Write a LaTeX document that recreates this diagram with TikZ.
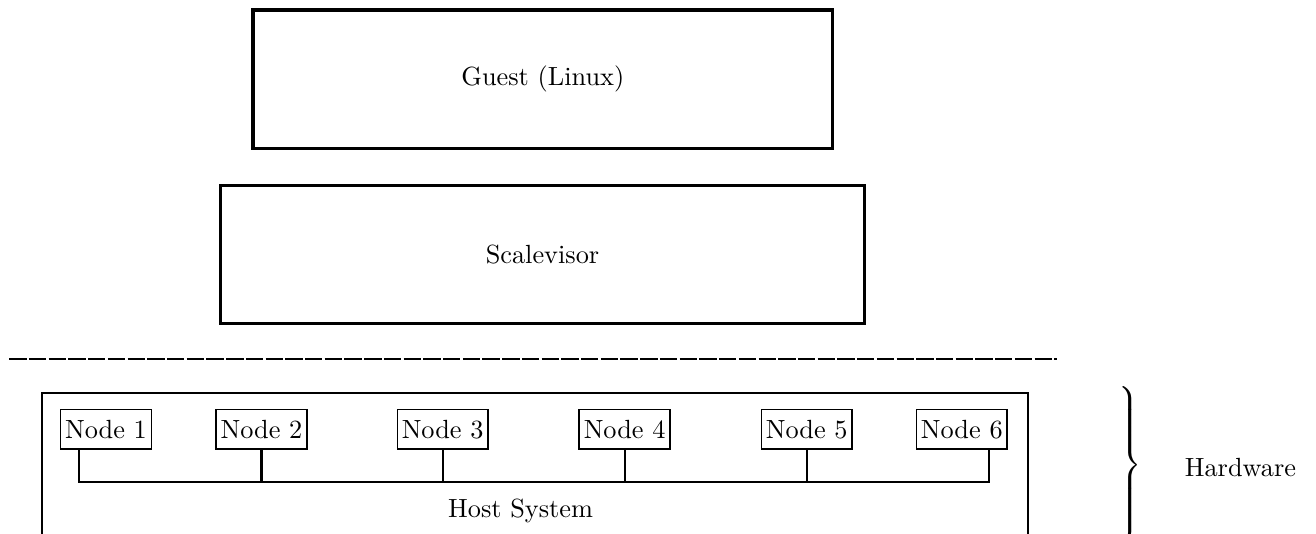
\documentclass[tikz,border=0pt]{standalone}
\usepackage{amsmath,amssymb}
\usepackage{tikz}
\usetikzlibrary{positioning,calc}

\begin{document}
\begin{tikzpicture}[
  layerbox/.style={draw, very thick, inner sep=0pt, minimum height=1.85cm},
  hwnode/.style={draw, semithick, inner xsep=1.7pt, inner ysep=0pt,
                 minimum height=0.53cm},
  hostbox/.style={draw, thick, minimum width=13.18cm, minimum height=1.94cm}]

  \clip (0,0) rectangle (17.594,-7.126);

  % software layers
  \node[layerbox, minimum width=7.75cm] (guest) at (7.257,-1.058)
    {Guest (Linux)};
  \node[layerbox, minimum width=8.61cm] (scalev) at (7.253,-3.402)
    {Scalevisor};

  % separator
  \coordinate (sepL) at (0.124,-4.803);
  \coordinate (sepR) at (14.135,-4.803);
  \draw[thick, dash pattern=on 6.6pt off 0.9pt] (sepL) -- (sepR);

  % host system
  \node[hostbox] (host) at (7.148,-6.222) {};
  \node (hostlbl) at (6.96,-6.826) {Host System};
  \node[hwnode] (n1) at ( 1.417,-5.739) {Node 1};
  \node[hwnode] (n2) at ( 3.496,-5.739) {Node 2};
  \node[hwnode] (n3) at ( 5.918,-5.739) {Node 3};
  \node[hwnode] (n4) at ( 8.351,-5.739) {Node 4};
  \node[hwnode] (n5) at (10.785,-5.739) {Node 5};
  \node[hwnode] (n6) at (12.858,-5.739) {Node 6};

  % bus
  \coordinate (bus) at (0,-6.448);
  \coordinate (t1) at ([xshift=-0.357cm]n1.south);
  \coordinate (t6) at ([xshift=0.36cm]n6.south);
  \draw[thick] (t1) |- (bus -| t6) -- (t6);
  \draw[thick] (n2.south) -- (n2.south |- bus);
  \draw[thick] (n3.south) -- (n3.south |- bus);
  \draw[thick] (n4.south) -- (n4.south |- bus);
  \draw[thick] (n5.south) -- (n5.south |- bus);

  % hardware brace
  \node[anchor=west, inner sep=0pt] (brace) at (14.904,-6.217)
    {$\left.\vrule height 32.5pt depth 27.5pt width 0pt\right\}$};
  \node (hw) at (16.584,-6.254) {Hardware};
\end{tikzpicture}
\end{document}
